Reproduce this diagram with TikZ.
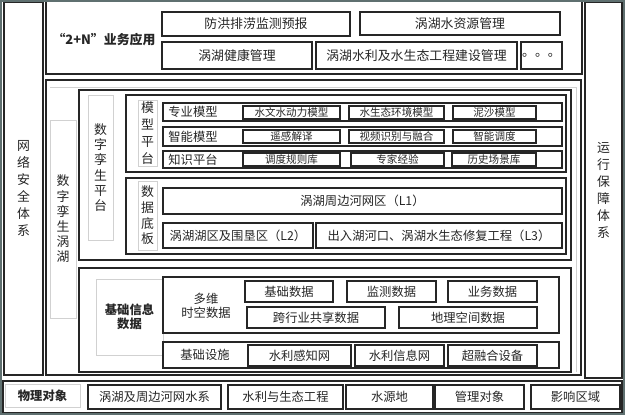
\documentclass[tikz,border=0pt]{standalone}
\usepackage{fontspec}
\setmainfont{Noto Sans CJK SC}
\usepackage{tikz}
\definecolor{edgegray}{RGB}{95,112,112}
\def\cbox[#1](#2,#3)(#4,#5)#6#7{\node[#1, minimum width={(#4-#2)*0.3mm}, minimum height={(#5-#3)*0.3mm}] (#6) at ({(#2+#4)/2},{(#3+#5)/2}) {#7};}
\tikzset{
	box/.style={draw=black!85, line width=0.35mm, inner sep=0pt, outer sep=0pt, text=black!85},
	frame/.style={draw=black!85, line width=0.45mm},
	pale/.style={draw=black!18, line width=0.2mm, inner sep=0pt, outer sep=0pt, text=black!85},
	big/.style={font=\fontsize{11}{13}\selectfont},
	mid/.style={font=\fontsize{10.5}{12}\selectfont},
	small/.style={font=\fontsize{9}{11}\selectfont},
	vlab/.style={align=center, font=\fontsize{11}{14.5}\selectfont},
}
\begin{document}
\begin{tikzpicture}[x=0.3mm, y=-0.3mm]
			%%%%% START %%%%%
			\useasboundingbox (0,0) rectangle (625,415);
			\fill[white] (0,0) rectangle (625,415);
			
			% top: business applications
			\draw[frame] (46,1) rectangle (582,74);
			\node[big, text=black!85] (app) at (104,40) {\bfseries “2+N”业务应用};
			\cbox[box, big](162,12)(350,36){fhpl}{防洪排涝监测预报}
			\cbox[box, big](360,12)(560,35){szygl}{涡湖水资源管理}
			\cbox[box, big](162,42)(312,69){jkgl}{涡湖健康管理}
			\cbox[box, big](316,42)(517,69){gcjs}{涡湖水利及水生态工程建设管理}
			\cbox[box, big](521,42)(562,69){more}{。。。}
			
			% side columns
			\cbox[box, vlab](4,2)(43,375){wlaq}{网\\络\\安\\全\\体\\系}
			\cbox[box, vlab](585,2)(622,378){yxbz}{运\\行\\保\\障\\体\\系}
			
			% digital twin
			\draw[frame] (46,80) rectangle (581,375);
			\draw[pale] (50,87) -- (576,87) -- (576,372);
			\cbox[pale, vlab, font=\fontsize{11}{13}\selectfont](50,120)(76,318){szwh}{数\\字\\孪\\生\\涡\\湖}
			\draw[frame] (79,90) rectangle (571,260);
			\cbox[pale, vlab, font=\fontsize{11}{13.1}\selectfont](88,95)(113,240){szpt}{数\\字\\孪\\生\\平\\台}
			
			% model platform
			\draw[frame] (126,95) rectangle (566,172);
			\cbox[pale, vlab](138,100)(157,166){mxpt}{模\\型\\平\\台}
			\draw[box] (163,103) rectangle (562,121);
			\node[mid, text=black!85] (zymx) at (193,112) {专业模型};
			\cbox[box, small](243,106)(340,119){swsdl}{水文水动力模型}
			\cbox[box, small](349,106)(444,119){sstmx}{水生态环境模型}
			\cbox[box, small](453,106)(536,119){nsmx}{泥沙模型}
			\draw[box] (163,127) rectangle (562,146);
			\node[mid, text=black!85] (znmx) at (193,136.5) {智能模型};
			\cbox[box, small](243,130)(340,143){ygjy}{遥感解译}
			\cbox[box, small](349,130)(444,143){spsb}{视频识别与融合}
			\cbox[box, small](453,130)(536,143){zndd}{智能调度}
			\draw[box] (163,151) rectangle (562,168);
			\node[mid, text=black!85] (zspt) at (193,159.5) {知识平台};
			\cbox[box, small](243,153)(340,166){ddgz}{调度规则库}
			\cbox[box, small](351,153)(444,166){zjjy}{专家经验}
			\cbox[box, small](452,153)(536,166){lscj}{历史场景库}
			
			% data base plate
			\draw[frame] (126,178) rectangle (566,254);
			\cbox[pale, vlab, font=\fontsize{11}{13.4}\selectfont](138,181)(157,250){sjdb}{数\\据\\底\\板}
			\cbox[box, mid](163,188)(562,214){lone}{涡湖周边河网区（L1）}
			\cbox[box, mid](163,223)(313,248){ltwo}{涡湖湖区及围垦区（L2）}
			\cbox[box, mid](316,223)(562,248){lthree}{出入湖河口、涡湖水生态修复工程（L3）}
			
			% basic information data
			\draw[frame] (79,268) rectangle (571,372);
			\cbox[pale, align=center, font=\fontsize{10.5}{12}\selectfont\bfseries](96,279)(163,355){jcxx}{基础信息\\数据}
			\draw[frame] (163,277) rectangle (559,333);
			\node[mid, align=center, text=black!85] (dwsk) at (206,306) {多维\\时空数据};
			\cbox[box, mid](245,281)(333,302){jcsj}{基础数据}
			\cbox[box, mid](347,281)(436,302){jcsj2}{监测数据}
			\cbox[box, mid](448,281)(537,302){ywsj}{业务数据}
			\cbox[box, mid](247,307)(385,328){kxy}{跨行业共享数据}
			\cbox[box, mid](399,307)(537,328){dlkj}{地理空间数据}
			\draw[frame] (163,342) rectangle (559,368);
			\node[mid, text=black!85] (jcss) at (205,355) {基础设施};
			\cbox[box, mid](248,345)(351,366){slgz}{水利感知网}
			\cbox[box, mid](355,345)(444,366){slxx}{水利信息网}
			\cbox[box, mid](448,345)(537,366){crh}{超融合设备}
			
			% physical objects
			\draw[frame] (3,381) rectangle (622,413);
			\cbox[pale, font=\fontsize{10.5}{12}\selectfont\bfseries](5,384)(80,407){wldx}{物理对象}
			\cbox[box, mid](88,385)(221,409){hwsx}{涡湖及周边河网水系}
			\cbox[box, mid](228,385)(343,409){stgc}{水利与生态工程}
			\cbox[box, mid](346,385)(433,409){syd}{水源地}
			\cbox[box, mid](435,385)(524,409){gldx}{管理对象}
			\cbox[box, mid](531,385)(620,409){yxqy}{影响区域}
			
			\draw[edgegray, line width=0.6mm] (1,1) rectangle (624,414);
			%%%%% END %%%%%
\end{tikzpicture}
\end{document}
